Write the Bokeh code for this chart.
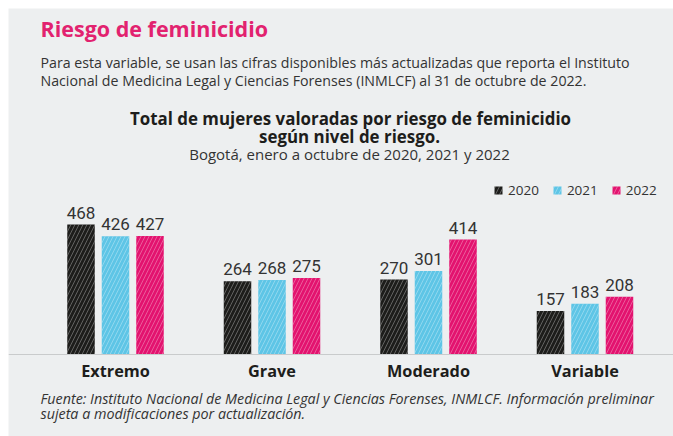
from bokeh.plotting import figure
from bokeh.models import ColumnDataSource, Label, Span, Legend, LegendItem, Range1d
from bokeh.core.properties import value
from bokeh.embed import file_html
from bokeh.resources import INLINE

# ---- data ----
categories = ["Extremo", "Grave", "Moderado", "Variable"]
years = ["2020", "2021", "2022"]
v2020 = [468, 264, 270, 157]
v2021 = [426, 268, 301, 183]
v2022 = [427, 275, 414, 208]
colors = ["#1d1d1b", "#5ec5e6", "#e3136f"]

# ---- layout constants (pixels) ----
W, H = 673, 436
LEFT, TOP = 8, 8
CAT_PX = 156.5          # pixel distance between category centres
CAT0_PX = 115.0         # pixel x of first category centre
BASE_PY = 354.0         # pixel y of the zero line
UNIT_PX = 130.0 / 468.0 # pixels per unit
X0 = (LEFT - CAT0_PX) / CAT_PX
X1 = (W - CAT0_PX) / CAT_PX
Y0 = -(H - BASE_PY) / UNIT_PX
Y1 = (BASE_PY - TOP) / UNIT_PX
SHIFT = 4  # correction for rendered text baseline

def dx(px):
    return X0 + (px - LEFT) * (X1 - X0) / (W - LEFT)

def dy(py):
    return Y1 - (py - TOP) * (Y1 - Y0) / (H - TOP)

OFF = 34.5 / CAT_PX
BW = 27.5 / CAT_PX
FONT = "Open Sans"

p = figure(width=W, height=H, output_backend="svg", toolbar_location=None,
           x_range=Range1d(X0, X1), y_range=Range1d(Y0, Y1),
           min_border_left=LEFT, min_border_top=TOP, min_border_right=0, min_border_bottom=0)
p.axis.visible = False
p.grid.visible = False
p.outline_line_color = None
p.border_fill_color = "#ffffff"
p.background_fill_color = "#edeff0"

xs = list(range(len(categories)))
series = [v2020, v2021, v2022]
renderers = []
for k, (vals, col) in enumerate(zip(series, colors)):
    src = ColumnDataSource(dict(x=[i + (k - 1) * OFF for i in xs], top=vals,
                                lab=[str(v) for v in vals]))
    r = p.vbar(x="x", top="top", width=BW, bottom=0, source=src,
               fill_color=col, line_color=None,
               hatch_pattern="/", hatch_color="white", hatch_alpha=0.3,
               hatch_scale=8, hatch_weight=1)
    renderers.append(r)
    p.text(x="x", y="top", text="lab", source=src, text_align="center",
           text_baseline="alphabetic", y_offset=-12,
           text_font=value("Roboto"), text_font_size="17px", text_color="#333333")

p.add_layout(Span(location=0, dimension="width", line_color="#c9cbcc", line_width=1))

csrc = ColumnDataSource(dict(x=xs, y=[0] * len(xs), t=categories))
p.text(x="x", y="y", text="t", source=csrc, text_align="center",
       text_baseline="alphabetic", y_offset=16,
       text_font=value(FONT), text_font_style="bold", text_font_size="16.3px",
       text_color="#1d1d1b")

def lab(txt, px, py, size, style="normal", color="#333333", align="left", font=FONT):
    p.add_layout(Label(x=dx(px), y=dy(py - SHIFT), text=txt, text_font=font,
                       text_font_size=size, text_font_style=style,
                       text_color=color, text_align=align, text_baseline="alphabetic"))

lab("Riesgo de feminicidio", 40, 32, "21.5px", "bold", "#e2226f")
lab("Para esta variable, se usan las cifras disponibles más actualizadas que reporta el Instituto",
    40, 66, "14.2px")
lab("Nacional de Medicina Legal y Ciencias Forenses (INMLCF) al 31 de octubre de 2022.",
    40, 84, "14.2px")
lab("Total de mujeres valoradas por riesgo de feminicidio", 350, 122, "16.9px", "bold", "#1d1d1b", "center")
lab("según nivel de riesgo.", 349, 140, "16.9px", "bold", "#1d1d1b", "center")
lab("Bogotá, enero a octubre de 2020, 2021 y 2022", 349, 157, "15px", "normal", "#333333", "center")
lab("Fuente: Instituto Nacional de Medicina Legal y Ciencias Forenses, INMLCF. Información preliminar",
    40, 402, "14.3px", "italic")
lab("sujeta a modificaciones por actualización.", 40, 417, "14.3px", "italic")

legend = Legend(items=[LegendItem(label=y, renderers=[r]) for y, r in zip(years, renderers)],
                orientation="horizontal", location=(485, 237),
                glyph_width=10, glyph_height=10, label_standoff=5, spacing=13,
                padding=0, margin=0, border_line_color=None, background_fill_alpha=0,
                label_text_font=FONT, label_text_font_size="13.5px",
                label_text_color="#333333", label_height=12, label_width=20)
p.add_layout(legend)

open("out.html", "w").write(file_html(p, INLINE))
